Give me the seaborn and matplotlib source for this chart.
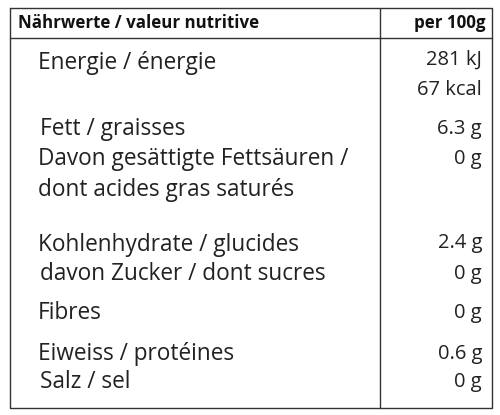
import matplotlib
matplotlib.use("Agg")
import matplotlib.pyplot as plt
import seaborn as sns

sns.set_theme(style="white")
plt.rcParams['font.family'] = ['Open Sans', 'DejaVu Sans']

header_left = "Nährwerte / valeur nutritive"
header_right = "per 100g"

# label text, left x, y (pixel rows)
labels = ["Energie / énergie", "Fett / graisses", "Davon gesättigte Fettsäuren /",
          "dont acides gras saturés", "Kohlenhydrate / glucides",
          "davon Zucker / dont sucres", "Fibres", "Eiweiss / protéines", "Salz / sel"]
label_x = [38, 40, 38, 38, 38, 40, 38, 38, 40]
label_y = [63, 129, 159, 190, 245, 274, 313, 354, 382]

values = ["281 kJ", "67 kcal", "6.3 g", "0 g", "2.4 g", "0 g", "0 g", "0.6 g", "0 g"]
value_y = [60, 90, 129, 159, 243, 274, 313, 354, 382]

fig = plt.figure(figsize=(5, 4.15), dpi=100)
ax = fig.add_axes([0, 0, 1, 1])
ax.set_xlim(0, 500)
ax.set_ylim(415, 0)
ax.axis("off")

lw = 1.0
c = "#333333"
ax.plot([10, 492, 492, 10, 10], [8, 8, 408, 408, 8], color=c, lw=lw)
ax.plot([10, 492], [38, 38], color=c, lw=lw)
ax.plot([380, 380], [8, 408], color=c, lw=lw)

ax.text(18, 23, header_left, fontsize=12.2, fontweight="bold", va="center", ha="left", color="#111111")
ax.text(486, 23, header_right, fontsize=12.2, fontweight="bold", va="center", ha="right", color="#111111")

for t, x, y in zip(labels, label_x, label_y):
    ax.text(x, y, t, fontsize=16.3, va="center", ha="left", color="#222222")
for t, y in zip(values, value_y):
    ax.text(482, y, t, fontsize=14.5, va="center", ha="right", color="#222222")

fig.savefig("out.png", dpi=100, facecolor="white")
